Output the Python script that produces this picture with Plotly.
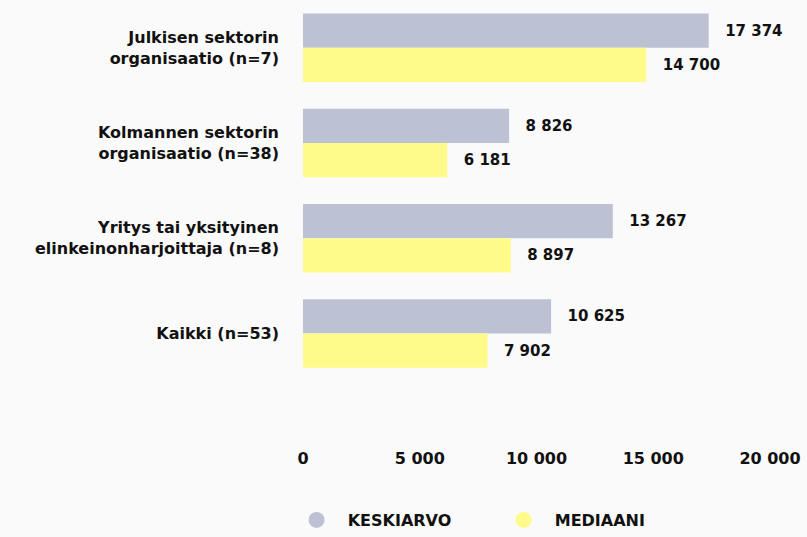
import plotly.graph_objects as go

categories = [
    "Julkisen sektorin<br>organisaatio (n=7)",
    "Kolmannen sektorin<br>organisaatio (n=38)",
    "Yritys tai yksityinen<br>elinkeinonharjoittaja (n=8)",
    "Kaikki (n=53)",
]
keskiarvo = [17374, 8826, 13267, 10625]
mediaani = [14700, 6181, 8897, 7902]
series_names = ["KESKIARVO", "MEDIAANI"]
colors = ["#bcc2d4", "#fffb8a"]
x_ticks = [0, 5000, 10000, 15000, 20000]

FONT = "DejaVu Sans, sans-serif"
TEXT = "#111111"
BG = "#fafafa"

fig = go.Figure()
for name, vals, col in zip(series_names, [keskiarvo, mediaani], colors):
    fig.add_trace(go.Bar(
        y=categories, x=vals, name=name, orientation="h",
        marker_color=col, marker_line_width=0,
        texttemplate="  \u2009%{x:,}", textposition="outside", cliponaxis=False,
        textfont=dict(family=FONT, size=15, color=TEXT, weight="bold"),
        showlegend=False, hoverinfo="skip",
    ))
    # legend entries drawn as circles
    fig.add_trace(go.Scatter(
        x=[None], y=[None], mode="markers", name="  " + name,
        marker=dict(symbol="circle", size=16, color=col),
    ))

fig.update_layout(
    width=807, height=537,
    barmode="group", bargap=0.281, bargroupgap=0,
    separators=". ",
    paper_bgcolor=BG, plot_bgcolor=BG,
    margin=dict(l=303, r=37, t=0, b=90),
    font=dict(family=FONT, size=15, color=TEXT),
    legend=dict(
        orientation="h", xref="container", yref="container",
        x=0.3675, y=0.0, xanchor="left", yanchor="bottom",
        font=dict(family=FONT, size=16, color=TEXT, weight="bold"),
        itemwidth=30, entrywidth=162,
    ),
)
fig.update_xaxes(
    range=[0, 20000], tickvals=x_ticks,
    tickformat=",", showgrid=False, zeroline=False, showline=False,
    tickfont=dict(family=FONT, size=16, color=TEXT, weight="bold"),
    ticks="", fixedrange=True,
)
fig.update_yaxes(
    categoryorder="array", categoryarray=categories,
    range=[4.19, -0.5], showgrid=False, zeroline=False, showline=False,
    tickfont=dict(family=FONT, size=16, color=TEXT, weight="bold"),
    ticks="", ticklabelstandoff=23, fixedrange=True,
)

fig.write_html(
    "out.html",
    config={"displayModeBar": False},
    post_script="document.body.style.margin='0';document.body.style.background='#fafafa';",
)
